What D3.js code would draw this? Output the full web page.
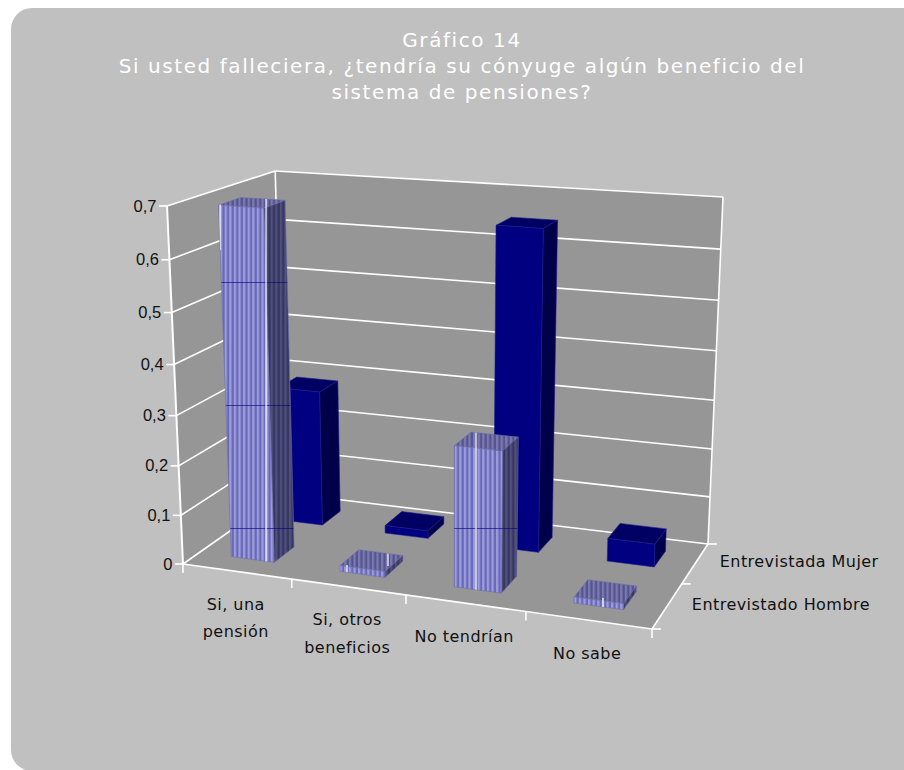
<!DOCTYPE html>
<html lang="es">
<head>
<meta charset="utf-8">
<title>Gráfico 14</title>
<script src="https://d3js.org/d3.v7.min.js"></script>
<style>
  html, body { margin: 0; padding: 0; background: #fff; }
  svg { display: block; }
  .lbl { font-family: "DejaVu Sans", sans-serif; font-size: 16px; fill: #111; letter-spacing: 0.45px; }
  .val { font-family: "Liberation Sans", Arial, sans-serif; font-size: 16.5px; fill: #111; }
  .ttl { font-family: "DejaVu Sans", sans-serif; font-size: 20px; fill: #fff; letter-spacing: 1.58px; }
</style>
</head>
<body>
<svg id="chart" width="904" height="770"></svg>
<script>
// Chart content
const titleLines = [
  "Gráfico 14",
  "Si usted falleciera, ¿tendría su cónyuge algún beneficio del",
  "sistema de pensiones?"
];
const categories = [["Si, una", "pensión"], ["Si, otros", "beneficios"], ["No tendrían"], ["No sabe"]];
const seriesNames = ["Entrevistado Hombre", "Entrevistada Mujer"];
const hombreValues = [0.695, 0.012, 0.278, 0.012];
const mujerValues = [0.285, 0.016, 0.648, 0.047];
const valueTicks = [0, 0.1, 0.2, 0.3, 0.4, 0.5, 0.6, 0.7];

// Box corners on screen, front-left first, going round the plane
const floorQuad = [[183, 564], [652, 629], [708, 544], [284, 493]];
const ceilQuad = [[167, 206], [665, 242], [723, 197], [275, 171]];
// Point where the chart's verticals converge
const vanish = [449, 6528];

const BAR_GAP = 0.3;   // free share of a cell on each side of a bar
const ZMAX = 0.7;

const svg = d3.select("#chart");
const defs = svg.append("defs");

// Square-to-quad homography
function homography([[x0, y0], [x1, y1], [x2, y2], [x3, y3]]) {
  const dx1 = x1 - x2, dx2 = x3 - x2, dx3 = x0 - x1 + x2 - x3;
  const dy1 = y1 - y2, dy2 = y3 - y2, dy3 = y0 - y1 + y2 - y3;
  const den = dx1 * dy2 - dx2 * dy1;
  const g = (dx3 * dy2 - dx2 * dy3) / den, h = (dx1 * dy3 - dx3 * dy1) / den;
  const a = x1 - x0 + g * x1, b = x3 - x0 + h * x3;
  const d = y1 - y0 + g * y1, e = y3 - y0 + h * y3;
  return (u, v) => {
    const w = g * u + h * v + 1;
    return [(a * u + b * v + x0) / w, (d * u + e * v + y0) / w];
  };
}
const onFloor = homography(floorQuad);
const onCeil = homography(ceilQuad);

const xScale = d3.scaleLinear().domain([0, categories.length]).range([0, 1]);
const dScale = d3.scaleLinear().domain([0, seriesNames.length]).range([0, 1]);
const zScale = d3.scaleLinear().domain([0, ZMAX]).range([0, 1]);

// cat and depth are in cell units, val in chart units
function project(cat, depth, val) {
  const u = xScale(cat), v = dScale(depth), w = zScale(val);
  const k = 1.06, t = w / (k - (k - 1) * w);   // vertical foreshortening
  const p = onFloor(u, v), q = onCeil(u, v);
  const y = p[1] + (q[1] - p[1]) * t;
  const x = p[0] + (vanish[0] - p[0]) * (y - p[1]) / (vanish[1] - p[1]);
  return [x, y];
}
const poly = pts => "M" + pts.map(p => p.map(n => n.toFixed(2)).join(",")).join("L") + "Z";
const seg = (a, b) => `M${a[0].toFixed(2)},${a[1].toFixed(2)}L${b[0].toFixed(2)},${b[1].toFixed(2)}`;

// Panel
svg.append("rect").attr("x", 11).attr("y", 8).attr("width", 940).attr("height", 763)
  .attr("rx", 21).attr("fill", "#c0c0c0");

// Title
svg.append("g").selectAll("text").data(titleLines).join("text")
  .attr("class", "ttl").attr("text-anchor", "middle")
  .attr("x", 462).attr("y", (d, i) => 46.5 + i * 26).text(d => d);

// Walls and floor
const nC = categories.length, nS = seriesNames.length;
const wallFill = "#969696";
const planes = [
  [project(0, 0, 0), project(0, nS, 0), project(0, nS, ZMAX), project(0, 0, ZMAX)],
  [project(0, nS, 0), project(nC, nS, 0), project(nC, nS, ZMAX), project(0, nS, ZMAX)],
  [project(0, 0, 0), project(nC, 0, 0), project(nC, nS, 0), project(0, nS, 0)]
];
svg.append("g").selectAll("path").data(planes).join("path")
  .attr("d", poly).attr("fill", wallFill).attr("stroke", wallFill).attr("stroke-width", 0.5);

// Gridlines and axes
const lines = svg.append("g").attr("fill", "none").attr("stroke", "#fff").attr("stroke-width", 1.6);
valueTicks.forEach(t => {
  lines.append("path").attr("d", seg(project(0, 0, t), project(0, nS, t)));
  lines.append("path").attr("d", seg(project(0, nS, t), project(nC, nS, t)));
  const a = project(0, 0, t);
  lines.append("path").attr("d", seg(a, [a[0] - 8, a[1]]));
});
lines.append("path").attr("d", seg(project(0, 0, 0), project(0, 0, ZMAX))).attr("stroke-width", 2);
lines.append("path").attr("d", seg(project(0, nS, 0), project(0, nS, ZMAX)));
lines.append("path").attr("d", seg(project(nC, nS, 0), project(nC, nS, ZMAX)));
lines.append("path").attr("d", seg(project(0, 0, 0), project(nC, 0, 0)));
lines.append("path").attr("d", seg(project(nC, 0, 0), project(nC, nS, 0)));
d3.range(nC + 1).forEach(i => {
  const a = project(i, 0, 0);
  lines.append("path").attr("d", seg(a, [a[0], a[1] + 9]));
});
d3.range(nS + 1).forEach(i => {
  const a = project(nC, i, 0);
  lines.append("path").attr("d", seg(a, [a[0] + 9, a[1]]));
});

// Value labels
svg.append("g").selectAll("text").data(valueTicks).join("text")
  .attr("class", "val").attr("text-anchor", "end")
  .attr("x", d => project(0, 0, d)[0] - 10.5)
  .attr("y", d => project(0, 0, d)[1] + 5.5)
  .text(d => String(d).replace(".", ","));

// Category labels
const catG = svg.append("g");
categories.forEach((lines2, i) => {
  const a = project(i + 0.5, 0, 0);
  lines2.forEach((s, j) => {
    catG.append("text").attr("class", "lbl").attr("text-anchor", "middle")
      .attr("x", a[0] - 1).attr("y", a[1] + 38.5 + j * 27.5).text(s);
  });
});

// Series labels
seriesNames.forEach((s, i) => {
  const a = project(nC, i + 0.5, 0);
  svg.append("text").attr("class", "lbl").attr("x", a[0] + 24.5).attr("y", a[1] + 4).text(s);
});

// Vertical hatching of the light series
const HATCH = 4.6;
function hatch(id, c1, c2) {
  const p = defs.append("pattern").attr("id", id).attr("patternUnits", "userSpaceOnUse")
    .attr("width", HATCH).attr("height", 10).attr("x", 220);
  p.append("rect").attr("width", HATCH).attr("height", 10).attr("fill", c1);
  p.append("rect").attr("x", HATCH / 2).attr("width", HATCH / 2).attr("height", 10).attr("fill", c2);
}
hatch("hFront", "#9c9cdc", "#6969b9");
hatch("hSide", "#50507f", "#36365f");
hatch("hTop", "#7a7ab0", "#54548f");

const solid = { front: "#000080", side: "#00004a", top: "#000064", edge: "#1c1c8c" };
const striped = { front: "url(#hFront)", side: "url(#hSide)", top: "url(#hTop)", edge: "#6f6fa8" };

function bar(cat, depth, val, look, clipId) {
  const x0 = cat + BAR_GAP, x1 = cat + 1 - BAR_GAP, d0 = depth + BAR_GAP, d1 = depth + 1 - BAR_GAP;
  const front = [project(x0, d0, 0), project(x1, d0, 0), project(x1, d0, val), project(x0, d0, val)];
  const side = [project(x1, d0, 0), project(x1, d1, 0), project(x1, d1, val), project(x1, d0, val)];
  const top = [project(x0, d0, val), project(x1, d0, val), project(x1, d1, val), project(x0, d1, val)];
  const g = svg.append("g").attr("stroke", look.edge).attr("stroke-width", 0.6).attr("stroke-linejoin", "round");
  g.append("path").attr("d", poly(top)).attr("fill", look.top);
  g.append("path").attr("d", poly(side)).attr("fill", look.side);
  g.append("path").attr("d", poly(front)).attr("fill", look.front);
  if (clipId) {
    const c = defs.append("clipPath").attr("id", clipId);
    [front, side, top].forEach(f => c.append("path").attr("d", poly(f)));
  }
}

// Back row first, then the front row over it
mujerValues.forEach((v, i) => bar(i, 1, v, solid));
hombreValues.forEach((v, i) => bar(i, 0, v, striped, "clip" + i));

// Seam lines over the hatched columns
const seamRows = [282, 405, 528];
const glints = [[266, 198, 564], [220, 204, 250], [476, 432, 591], [347, 565, 576], [603, 598, 609], [388, 551, 566]];
hombreValues.forEach((v, i) => {
  const g = svg.append("g").attr("clip-path", `url(#clip${i})`);
  seamRows.forEach(y => g.append("line").attr("x1", 200).attr("x2", 700).attr("y1", y + 0.5).attr("y2", y + 0.5)
    .attr("stroke", "#000080").attr("stroke-width", 1).attr("stroke-opacity", 0.6));
  glints.forEach(([x, a, b]) => g.append("line").attr("x1", x).attr("x2", x).attr("y1", a).attr("y2", b)
    .attr("stroke", "#fff").attr("stroke-width", 1.2));
});
</script>
</body>
</html>
